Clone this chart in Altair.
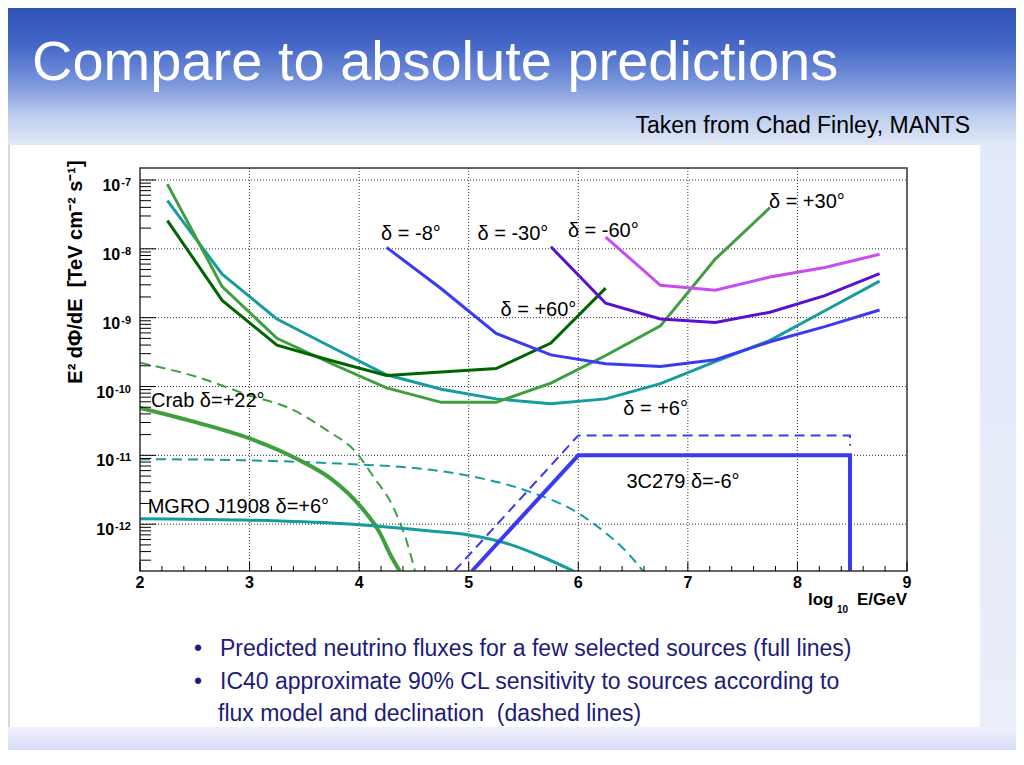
import altair as alt
import pandas as pd

# ---------------- data ----------------
# IC40 sensitivity curves (E^2 dPhi/dE, TeV cm^-2 s^-1) vs log10(E/GeV)
p30_x = [2.25, 2.75, 3.25, 3.75, 4.25, 4.75, 5.25, 5.75, 6.25, 6.75, 7.25, 7.75]
p30_y = [8.71e-8, 2.82e-9, 5.01e-10, 2.14e-10, 9.55e-11, 5.89e-11, 5.89e-11, 1.12e-10, 2.82e-10, 7.59e-10, 7.08e-9, 3.98e-8]

p60_x = [2.25, 2.75, 3.25, 3.75, 4.25, 4.75, 5.25, 5.75, 6.25]
p60_y = [2.57e-8, 1.78e-9, 3.98e-10, 2.37e-10, 1.45e-10, 1.62e-10, 1.82e-10, 4.27e-10, 2.69e-9]

p6_x = [2.25, 2.75, 3.25, 3.75, 4.25, 4.75, 5.25, 5.75, 6.25, 6.75, 7.25, 7.75, 8.25, 8.75]
p6_y = [5.01e-8, 4.27e-9, 9.55e-10, 3.72e-10, 1.48e-10, 9.12e-11, 6.61e-11, 5.62e-11, 6.61e-11, 1.10e-10, 2.29e-10, 4.68e-10, 1.26e-9, 3.39e-9]

m8_x = [4.25, 4.75, 5.25, 5.75, 6.25, 6.75, 7.25, 7.75, 8.25, 8.75]
m8_y = [1.05e-8, 2.63e-9, 5.89e-10, 2.88e-10, 2.14e-10, 1.95e-10, 2.45e-10, 4.47e-10, 7.41e-10, 1.29e-9]

m30_x = [5.75, 6.25, 6.75, 7.25, 7.75, 8.25, 8.75]
m30_y = [1.07e-8, 1.62e-9, 9.55e-10, 8.51e-10, 1.20e-9, 2.09e-9, 4.37e-9]

m60_x = [6.25, 6.75, 7.25, 7.75, 8.25, 8.75]
m60_y = [1.48e-8, 2.95e-9, 2.51e-9, 3.89e-9, 5.37e-9, 8.32e-9]

# predicted fluxes (solid) and source sensitivities (dashed)
crab_x = [2.0, 2.49, 3.0, 3.43, 3.76, 4.0, 4.19, 4.28, 4.37]
crab_y = [4.90e-11, 3.09e-11, 1.76e-11, 8.91e-12, 4.37e-12, 1.91e-12, 7.41e-13, 3.72e-13, 2.09e-13]
crab_s_x = [2.0, 2.5, 3.0, 3.37, 3.70, 3.98, 4.13, 4.31, 4.43, 4.51]
crab_s_y = [2.21e-10, 1.41e-10, 7.41e-11, 4.79e-11, 2.34e-11, 1.07e-11, 4.90e-12, 1.78e-12, 5.89e-13, 2.09e-13]

mgro_x = [2.0, 2.91, 3.82, 4.65, 5.01, 5.35, 5.68, 5.98]
mgro_y = [1.20e-12, 1.15e-12, 1.02e-12, 7.94e-13, 6.92e-13, 5.25e-13, 3.31e-13, 2.0e-13]
mgro_s_x = [2.0, 2.91, 3.82, 4.65, 5.01, 5.56, 5.98, 6.26, 6.44, 6.59]
mgro_s_y = [8.81e-12, 8.51e-12, 7.59e-12, 6.17e-12, 5.01e-12, 2.95e-12, 1.51e-12, 7.24e-13, 3.98e-13, 2.09e-13]

c3_x = [5.03, 6.0, 8.48, 8.48]
c3_y = [2.09e-13, 1.0e-11, 1.0e-11, 2.09e-13]
c3_s_x = [4.87, 6.0, 8.48, 8.48]
c3_s_y = [2.09e-13, 1.95e-11, 1.95e-11, 1.38e-11]

# annotation labels (data coordinates: left x, baseline y)
lab_text = ["δ = -8°", "δ = -30°", "δ = -60°", "δ = +60°", "δ = +30°", "δ = +6°",
            "3C279 δ=-6°", "Crab δ=+22°", "MGRO J1908 δ=+6°"]
lab_x = [4.20, 5.08, 5.905, 5.29, 7.74, 6.41, 6.44, 2.10, 2.07]
lab_y = [1.34e-8, 1.34e-8, 1.49e-8, 1.05e-9, 3.92e-8, 3.84e-11, 3.33e-12, 5.0e-11, 1.45e-12]

x_major = [2, 3, 4, 5, 6, 7, 8, 9]
x_grid = [3, 4, 5, 6, 7, 8]
y_major = [1e-12, 1e-11, 1e-10, 1e-9, 1e-8, 1e-7]
y_exp = ["-12", "-11", "-10", "-9", "-8", "-7"]

title_text = "Compare to absolute predictions"
credit_text = "Taken from Chad Finley, MANTS"
bullets = ["Predicted neutrino fluxes for a few selected sources (full lines)",
           "IC40 approximate 90% CL sensitivity to sources according to",
           "flux model and declination \u00a0(dashed lines)"]

# ---------------- layout ----------------
W, H = 767, 403
Y_MIN, Y_MAX = 10 ** -12.68, 10 ** -6.826
FONT = "Liberation Sans"
xsc = alt.Scale(domain=[2, 9], nice=False, zero=False)
ysc = alt.Scale(type="log", domain=[Y_MIN, Y_MAX], nice=False)
one = pd.DataFrame({"a": [0]})

x_minor = [round(2 + 0.2 * i, 1) for i in range(36) if i % 5]
y_minor = [m * 10.0 ** e for e in range(-13, -6) for m in range(2, 10)
           if Y_MIN <= m * 10.0 ** e <= Y_MAX]


def box(x1, x2, y1, y2, color, **kw):
    return alt.Chart(one).mark_rect(color=color, **kw).encode(
        x=alt.value(x1), x2=alt.value(x2), y=alt.value(y1), y2=alt.value(y2))


def curve(xv, yv, color, width, dash=None, interp="linear"):
    df = pd.DataFrame({"x": xv, "y": yv, "i": list(range(len(xv)))})
    kw = dict(color=color, strokeWidth=width, clip=True, interpolate=interp)
    if dash:
        kw["strokeDash"] = dash
    return alt.Chart(df).mark_line(**kw).encode(
        x=alt.X("x:Q", scale=xsc, axis=None),
        y=alt.Y("y:Q", scale=ysc, axis=None),
        order="i:Q")


def txt(text, x, y, size, color="black", align="left", weight="normal", angle=0):
    kw = dict(text=text, font=FONT, fontSize=size, color=color, align=align,
              baseline="alphabetic", fontWeight=weight)
    if angle:
        kw["angle"] = angle
        kw["baseline"] = "middle"
    return alt.Chart(one).mark_text(**kw).encode(x=alt.value(x), y=alt.value(y))


# slide background
bg_grad = alt.LinearGradient(
    gradient="linear", x1=0, x2=0, y1=0, y2=1,
    stops=[alt.GradientStop(color="#2f52b6", offset=0),
           alt.GradientStop(color="#4467c8", offset=0.05),
           alt.GradientStop(color="#7894da", offset=0.10),
           alt.GradientStop(color="#bccdef", offset=0.145),
           alt.GradientStop(color="#e2e9f8", offset=0.185),
           alt.GradientStop(color="#eaeef9", offset=1)])
bottom_grad = alt.LinearGradient(
    gradient="linear", x1=0, x2=0, y1=0, y2=1,
    stops=[alt.GradientStop(color="#f1f1fd", offset=0),
           alt.GradientStop(color="#d6dbf6", offset=1)])

layers = [
    box(-132, 876, -160, 582, bg_grad),
    box(-132, 840, -23, 559, "white"),
    box(-132, 876, 559, 582, bottom_grad),
    alt.Chart(one).mark_rule(color="#b0b0b0", strokeWidth=1).encode(
        x=alt.value(-131), y=alt.value(-23), y2=alt.value(559)),
    txt(title_text, -108, -88, 56, color="white"),
    txt(credit_text, 830, -35, 23, align="right"),
]

# bullets
navy = "#1c1c78"
for k, (s, by) in enumerate(zip(bullets, [488, 521, 553])):
    if k < 2:
        layers.append(txt("•", 58, by, 23, color=navy, align="center"))
    layers.append(txt(s, 80 if k < 2 else 78, by, 23, color=navy))

# grid
layers.append(alt.Chart(pd.DataFrame({"x": x_grid})).mark_rule(
    color="#333333", strokeWidth=1, strokeDash=[1, 2]).encode(
    x=alt.X("x:Q", scale=xsc, axis=None), y=alt.value(0), y2=alt.value(H)))
layers.append(alt.Chart(pd.DataFrame({"y": y_major})).mark_rule(
    color="#333333", strokeWidth=1, strokeDash=[1, 2]).encode(
    y=alt.Y("y:Q", scale=ysc, axis=None), x=alt.value(0), x2=alt.value(W)))

# curves
GREEN, DGREEN, TEAL = "#3f9f3f", "#006400", "#169c9e"
BLUE, PURPLE, MAGENTA = "#3a3af0", "#5a10d0", "#c84cf0"
DASH = [10, 6]
layers += [
    curve(crab_s_x, crab_s_y, GREEN, 2, DASH, "monotone"),
    curve(mgro_s_x, mgro_s_y, TEAL, 2, DASH, "monotone"),
    curve(c3_s_x, c3_s_y, BLUE, 2, DASH),
    curve(crab_x, crab_y, GREEN, 4, None, "monotone"),
    curve(mgro_x, mgro_y, TEAL, 3, None, "monotone"),
    curve(c3_x, c3_y, BLUE, 4),
    curve(p6_x, p6_y, TEAL, 3),
    curve(p30_x, p30_y, GREEN, 3),
    curve(p60_x, p60_y, DGREEN, 3),
    curve(m8_x, m8_y, BLUE, 3),
    curve(m30_x, m30_y, PURPLE, 3),
    curve(m60_x, m60_y, MAGENTA, 3),
]

# frame
layers.append(alt.Chart(one).mark_rect(fillOpacity=0, stroke="#333333", strokeWidth=1.5).encode(
    x=alt.value(0), x2=alt.value(W), y=alt.value(0), y2=alt.value(H)))

# ticks (inside)
layers.append(alt.Chart(pd.DataFrame({"x": x_major})).mark_rule(color="black", strokeWidth=1).encode(
    x=alt.X("x:Q", scale=xsc, axis=None), y=alt.value(H), y2=alt.value(H - 9)))
layers.append(alt.Chart(pd.DataFrame({"x": x_minor})).mark_rule(color="black", strokeWidth=1).encode(
    x=alt.X("x:Q", scale=xsc, axis=None), y=alt.value(H), y2=alt.value(H - 5)))
layers.append(alt.Chart(pd.DataFrame({"y": y_major})).mark_rule(color="black", strokeWidth=1).encode(
    y=alt.Y("y:Q", scale=ysc, axis=None), x=alt.value(0), x2=alt.value(16)))
layers.append(alt.Chart(pd.DataFrame({"y": y_minor})).mark_rule(color="black", strokeWidth=1).encode(
    y=alt.Y("y:Q", scale=ysc, axis=None), x=alt.value(0), x2=alt.value(11)))

# x tick labels
layers.append(alt.Chart(pd.DataFrame({"x": x_major, "t": [str(v) for v in x_major]})).mark_text(
    font=FONT, fontSize=16, fontWeight="bold", align="center", baseline="alphabetic").encode(
    x=alt.X("x:Q", scale=xsc, axis=None), y=alt.value(H + 17), text="t:N"))

# y tick labels: "10" + superscript exponent, right aligned at the axis
EXP_SIZE = 11
exp_right = -9
exp_w = [EXP_SIZE * (0.333 + 0.556 * (len(e) - 1)) for e in y_exp]
ylab = pd.DataFrame({"y": y_major, "e": y_exp,
                     "ex": [exp_right] * len(y_exp),
                     "bx": [exp_right - w - 1 for w in exp_w]})
layers.append(alt.Chart(ylab).mark_text(
    font=FONT, fontSize=16, fontWeight="bold", align="right", baseline="alphabetic", dy=11,
    text="10").encode(y=alt.Y("y:Q", scale=ysc, axis=None), x=alt.X("bx:Q", scale=None)))
layers.append(alt.Chart(ylab).mark_text(
    font=FONT, fontSize=EXP_SIZE, fontWeight="bold", align="right", baseline="alphabetic", dy=6).encode(
    y=alt.Y("y:Q", scale=ysc, axis=None), x=alt.X("ex:Q", scale=None), text="e:N"))

# axis titles
layers.append(txt("E² dΦ/dE \u00a0[TeV cm⁻² s⁻¹]", -64, 104, 20, weight="bold", align="center", angle=270))
layers.append(txt("log", 668, 437, 17, weight="bold"))
layers.append(txt("10", 697, 445, 10, weight="bold"))
layers.append(txt("E/GeV", 767, 437, 17, weight="bold", align="right"))

# curve labels
layers.append(alt.Chart(pd.DataFrame({"x": lab_x, "y": lab_y, "t": lab_text})).mark_text(
    font=FONT, fontSize=20, align="left", baseline="alphabetic", color="black").encode(
    x=alt.X("x:Q", scale=xsc, axis=None), y=alt.Y("y:Q", scale=ysc, axis=None), text="t:N"))

chart = alt.layer(*layers).properties(
    width=W, height=H,
    autosize=alt.AutoSizeParams(type="none"),
    padding={"left": 132, "top": 160, "right": 109, "bottom": 182},
    background="white",
).configure_view(stroke="transparent")

chart.save("out.html", embed_options={"renderer": "svg", "actions": False})
